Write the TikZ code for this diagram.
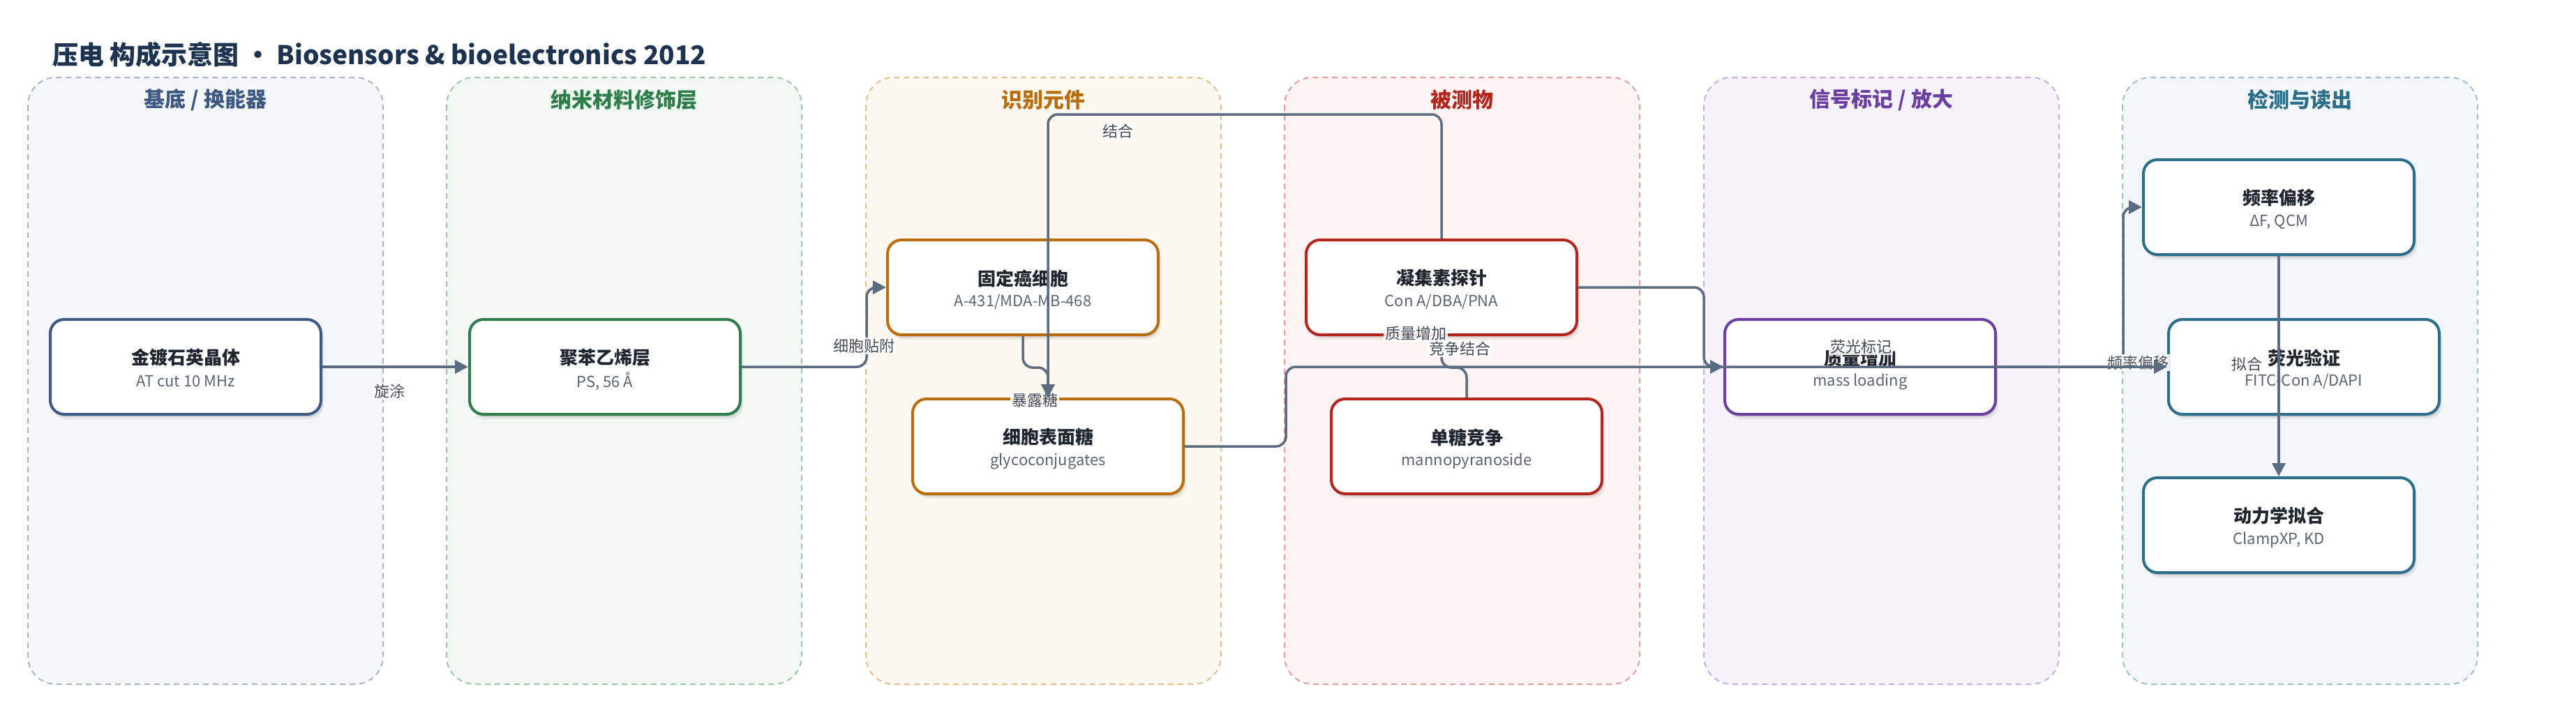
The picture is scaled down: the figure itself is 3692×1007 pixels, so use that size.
\documentclass[tikz,border=0pt]{standalone}
\usepackage{fontspec}
\setmainfont{Noto Sans CJK SC}
\usetikzlibrary{arrows.meta,shadows}
\definecolor{edgec}{HTML}{5B6B80}
\definecolor{titlec}{HTML}{1E3350}
\definecolor{ntext}{HTML}{1F2630}
\definecolor{stext}{HTML}{5B6474}
\definecolor{ltext}{HTML}{444C58}
\definecolor{fA}{HTML}{F4F6FA}\definecolor{bA}{HTML}{A9B5C7}\definecolor{cA}{HTML}{3E5A82}
\definecolor{fB}{HTML}{F1F8F3}\definecolor{bB}{HTML}{9CC8A9}\definecolor{cB}{HTML}{2E7D4A}
\definecolor{fC}{HTML}{FDF8EF}\definecolor{bC}{HTML}{E5BF8A}\definecolor{cC}{HTML}{B86E0E}
\definecolor{fD}{HTML}{FDF3F2}\definecolor{bD}{HTML}{E69C9A}\definecolor{cD}{HTML}{B3261E}
\definecolor{fE}{HTML}{F6F2FA}\definecolor{bE}{HTML}{C7AEE0}\definecolor{cE}{HTML}{6B3FA0}
\definecolor{fF}{HTML}{F2F6F8}\definecolor{bF}{HTML}{A0C0CC}\definecolor{cF}{HTML}{2C6E8A}
\newcommand{\mkbox}[6]{%
  \node[nbox, draw=#4] (#1) at (#2,#3) {};
  \node[ttl] (#1t) at (#2,#3-13) {#5};
  \node[subt] (#1s) at (#2,#3+21) {#6};
}
\begin{document}
\begin{tikzpicture}[x=1pt,y=-1pt,
  panel/.style={line width=2pt, dash pattern=on 8pt off 6pt, rounded corners=40pt},
  phead/.style={font=\fontsize{30}{34}\selectfont\bfseries, inner sep=0pt},
  nbox/.style={line width=4pt, rounded corners=20pt, fill=white, minimum width=388pt, minimum height=136pt, inner sep=0pt,
     drop shadow={shadow xshift=2pt, shadow yshift=-4pt, opacity=.10, fill=black},
     drop shadow={shadow xshift=4pt, shadow yshift=-7pt, opacity=.06, fill=black}},
  ttl/.style={font=\fontsize{26}{30}\selectfont\bfseries, text=ntext, inner sep=0pt},
  subt/.style={font=\fontsize{22}{26}\selectfont, text=stext, inner sep=0pt},
  edge/.style={draw=edgec, line width=3.5pt, rounded corners=14pt, -{Triangle[length=19pt,width=19pt]}},
  edgeline/.style={draw=edgec, line width=3.5pt, rounded corners=14pt},
  lbl/.style={fill=white, fill opacity=.88, text opacity=1, inner sep=2pt, font=\fontsize{22}{25}\selectfont, text=ltext}
]
\useasboundingbox[fill=white] (0,0) rectangle (3692,1007);
% title
\node[anchor=west, inner sep=0pt, font=\fontsize{37}{43}\selectfont\bfseries, text=titlec] (title) at (75,78) {压电 构成示意图 • Biosensors \& bioelectronics 2012};
% panels
\draw[panel, draw=bA, fill=fA] (40,111) rectangle ++(509,870);
\draw[panel, draw=bB, fill=fB] (640,111) rectangle ++(509,870);
\draw[panel, draw=bC, fill=fC] (1241,111) rectangle ++(509,870);
\draw[panel, draw=bD, fill=fD] (1841,111) rectangle ++(509,870);
\draw[panel, draw=bE, fill=fE] (2442,111) rectangle ++(509,870);
\draw[panel, draw=bF, fill=fF] (3042,111) rectangle ++(509,870);
\node[phead, text=cA] (h1) at (294.5,143) {基底 / 换能器};
\node[phead, text=cB] (h2) at (894.5,143) {纳米材料修饰层};
\node[phead, text=cC] (h3) at (1495.5,143) {识别元件};
\node[phead, text=cD] (h4) at (2095.5,143) {被测物};
\node[phead, text=cE] (h5) at (2696.5,143) {信号标记 / 放大};
\node[phead, text=cF] (h6) at (3296.5,143) {检测与读出};
% nodes
\mkbox{n1}{266}{526}{cA}{金镀石英晶体}{AT cut 10 MHz}
\mkbox{n2}{867}{526}{cB}{聚苯乙烯层}{PS, 56 Å}
\mkbox{n3}{1466}{412}{cC}{固定癌细胞}{A-431/MDA-MB-468}
\mkbox{n4}{1502}{640}{cC}{细胞表面糖}{glycoconjugates}
\mkbox{n5}{2066}{412}{cD}{凝集素探针}{Con A/DBA/PNA}
\mkbox{n6}{2102}{640}{cD}{单糖竞争}{mannopyranoside}
\mkbox{n7}{2666}{526}{cE}{质量增加}{mass loading}
\mkbox{n8}{3266}{297}{cF}{频率偏移}{ΔF, QCM}
\mkbox{n9}{3302}{526}{cF}{荧光验证}{FITC-Con A/DAPI}
\mkbox{n10}{3266}{753}{cF}{动力学拟合}{ClampXP, KD}
% edges and labels
\draw[edge] (n1.east) -- (n2.west);
\node[lbl] (l1) at (558,561) {旋涂};
\draw[edge] (n2.east) -- ++(179,0) |- (n3.west);
\node[lbl] (l2) at (1238,496) {细胞贴附};
\draw[edge] (n4.east) -- ++(145,0) |- (n7.west);
\draw[edgeline] (n6.north) -- ++(0,-43) -| (n5.south);
\draw[edge] (n7.east) -- ++(181,0) |- (n8.west);
\node[lbl] (l8) at (3064,520) {频率偏移};
\draw[edge] (n5.east) -- ++(180,0) |- (n9.west);
\node[lbl] (l3) at (1483,574) {暴露糖};
\draw[edge] (n3.south) -- ++(0,45) -| (n4.north);
\draw[edge] (n5.north) -- ++(0,-178) -| (n4.north);
\node[lbl] (l4) at (1602,188) {结合};
\node[lbl] (l5) at (2029,478) {质量增加};
\node[lbl] (l6) at (2092,500) {竞争结合};
\node[lbl] (l7) at (2667,497) {荧光标记};
\draw[edge] (n8.south) -- (n10.north);
\node[lbl, fill opacity=0] (l9) at (3220,522) {拟合};
\end{tikzpicture}
\end{document}
